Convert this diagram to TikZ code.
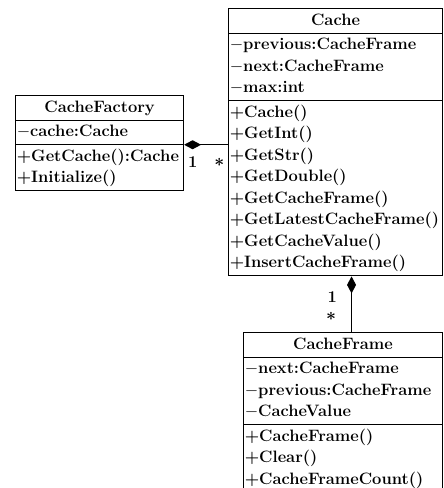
\documentclass[tikz,border=0pt]{standalone}
\usepackage{fontspec}
\usetikzlibrary{shapes,arrows.meta}
\newcommand{\mem}[1]{\strut#1\par}
\newcommand{\ttl}[1]{{\centering\strut#1\par}}

\begin{document}
\begin{tikzpicture}[x=1pt,y=1pt]
\tikzstyle{umlclass}=[
  rectangle split,
  rectangle split parts=3,
  draw, line width=1.1pt,
  inner xsep=1.2pt, inner ysep=1pt,
  anchor=north west,
  font=\fontsize{16.5}{21.5}\selectfont\bfseries ]
\tikzstyle{mult}=[font=\fontsize{16.5}{18}\selectfont\bfseries\boldmath, inner sep=0pt]
\tikzstyle{aggr}=[{Diamond[length=17pt,width=9pt]}-, line width=1.1pt]
\useasboundingbox (0,0) rectangle (444,-488);
\node[umlclass, text width=165.6pt] (factory) at (15,-95) {
  \ttl{CacheFactory}
  \nodepart{two}
  \mem{$-$cache:Cache}
  \nodepart{three}
  \mem{+GetCache():Cache}
  \mem{+Initialize()}
};
\node[umlclass, text width=211.6pt] (cache) at (228,-8) {
  \ttl{Cache}
  \nodepart{two}
  \mem{$-$previous:CacheFrame}
  \mem{$-$next:CacheFrame}
  \mem{$-$max:int}
  \nodepart{three}
  \mem{+Cache()}
  \mem{+GetInt()}
  \mem{+GetStr()}
  \mem{+GetDouble()}
  \mem{+GetCacheFrame()}
  \mem{+GetLatestCacheFrame()}
  \mem{+GetCacheValue()}
  \mem{+InsertCacheFrame()}
};
\node[umlclass, text width=196.6pt] (frame) at (243,-332) {
  \ttl{CacheFrame}
  \nodepart{two}
  \mem{$-$next:CacheFrame}
  \mem{$-$previous:CacheFrame}
  \mem{$-$CacheValue}
  \nodepart{three}
  \mem{+CacheFrame()}
  \mem{+Clear()}
  \mem{+CacheFrameCount()}
};
% factory holds cache
\draw[aggr] (factory.two split east) -- (factory.two split east -| cache.west)
  node[mult, pos=.2, below=11pt] {1}
  node[mult, pos=.8, below=13pt] {$*$};
% cache holds frames
\draw[aggr] ([xshift=8.5pt]frame.north |- cache.south) -- ([xshift=8.5pt]frame.north)
  node[mult, pos=.37, left=14pt] {1}
  node[mult, pos=.72, left=15pt] {$*$};
\end{tikzpicture}
\end{document}
